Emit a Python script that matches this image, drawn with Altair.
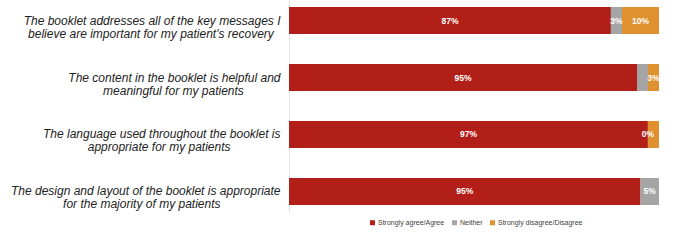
import altair as alt
import pandas as pd

NB = "\u00a0"
ZW = "\u200b"
statements = [
    ["The booklet addresses all of the key messages I", "believe are important for my patient's recovery" + NB * 2 + ZW],
    ["The content in the booklet is helpful and", "meaningful for my patients" + NB * 11 + ZW],
    ["The language used throughout the booklet is", "appropriate for my patients" + NB * 15 + ZW],
    ["The design and layout of the booklet is appropriate", "for the majority of my patients" + NB * 18 + ZW],
]
series = ["Strongly agree/Agree", "Neither", "Strongly disagree/Disagree"]
colors = ["#B21F18", "#A5A5A5", "#E0912F"]
agree = [87, 95, 97, 95]
neither = [3, 3, 0, 5]
disagree = [10, 3, 3, 0]
agree_labels = ["87%", "95%", "97%", "95%"]
neither_labels = ["3%", "", "0%", "5%"]
disagree_labels = ["10%", "3%", "", ""]

keys = [f"q{i}" for i in range(len(statements))]
label_map = {k: s for k, s in zip(keys, statements)}

rows = []
for i, k in enumerate(keys):
    vals = [agree[i], neither[i], disagree[i]]
    labs = [agree_labels[i], neither_labels[i], disagree_labels[i]]
    total = sum(vals)
    cum = 0
    for j, s in enumerate(series):
        start = cum / total
        cum += vals[j]
        end = cum / total
        rows.append({"q": k, "series": s, "order": j, "start": start, "end": end,
                     "mid": (start + end) / 2, "label": labs[j]})
df = pd.DataFrame(rows)

label_expr = "{" + ",".join(
    "'%s': [%s]" % (k, ",".join('"' + line + '"' for line in label_map[k]))
    for k in keys) + "}[datum.value]"

y = alt.Y("q:N", sort=keys, title=None,
          scale=alt.Scale(paddingInner=0.526, paddingOuter=0.1228),
          axis=alt.Axis(labelExpr=label_expr, ticks=False, labelPadding=9,
                        labelFontSize=12, labelFontStyle="italic", labelColor="#222222",
                        labelLineHeight=13, labelFont="Liberation Sans", labelAlign="right",
                        labelLimit=400, domainColor="#E3E3E3", domainWidth=1))

x = alt.X("start:Q", scale=alt.Scale(domain=[0, 1], nice=False), axis=None, title=None)

bars = alt.Chart(df).mark_bar(size=27).encode(
    y=y, x=x, x2="end:Q",
    color=alt.Color("series:N", sort=series, scale=alt.Scale(domain=series, range=colors),
                    legend=alt.Legend(title=None, orient="none", legendX=80, legendY=219,
                                      direction="horizontal", symbolType="square",
                                      symbolSize=25, symbolStrokeWidth=0, labelFontSize=7,
                                      labelFont="Liberation Sans", labelColor="#404040",
                                      labelOffset=2, columnPadding=6)),
)

texts = alt.Chart(df).mark_text(color="white", fontSize=8.5, fontWeight="bold",
                                font="Liberation Sans", baseline="middle").encode(
    y=alt.Y("q:N", sort=keys), x=alt.X("mid:Q"), text="label:N")

chart = alt.layer(bars, texts).properties(
    width=370, height=212,
    autosize=alt.AutoSizeParams(type="none"),
    padding={"left": 289, "top": 0, "right": 22, "bottom": 31},
).configure_view(stroke=None)

chart.save("out.html", embed_options={"renderer": "svg", "actions": False})
